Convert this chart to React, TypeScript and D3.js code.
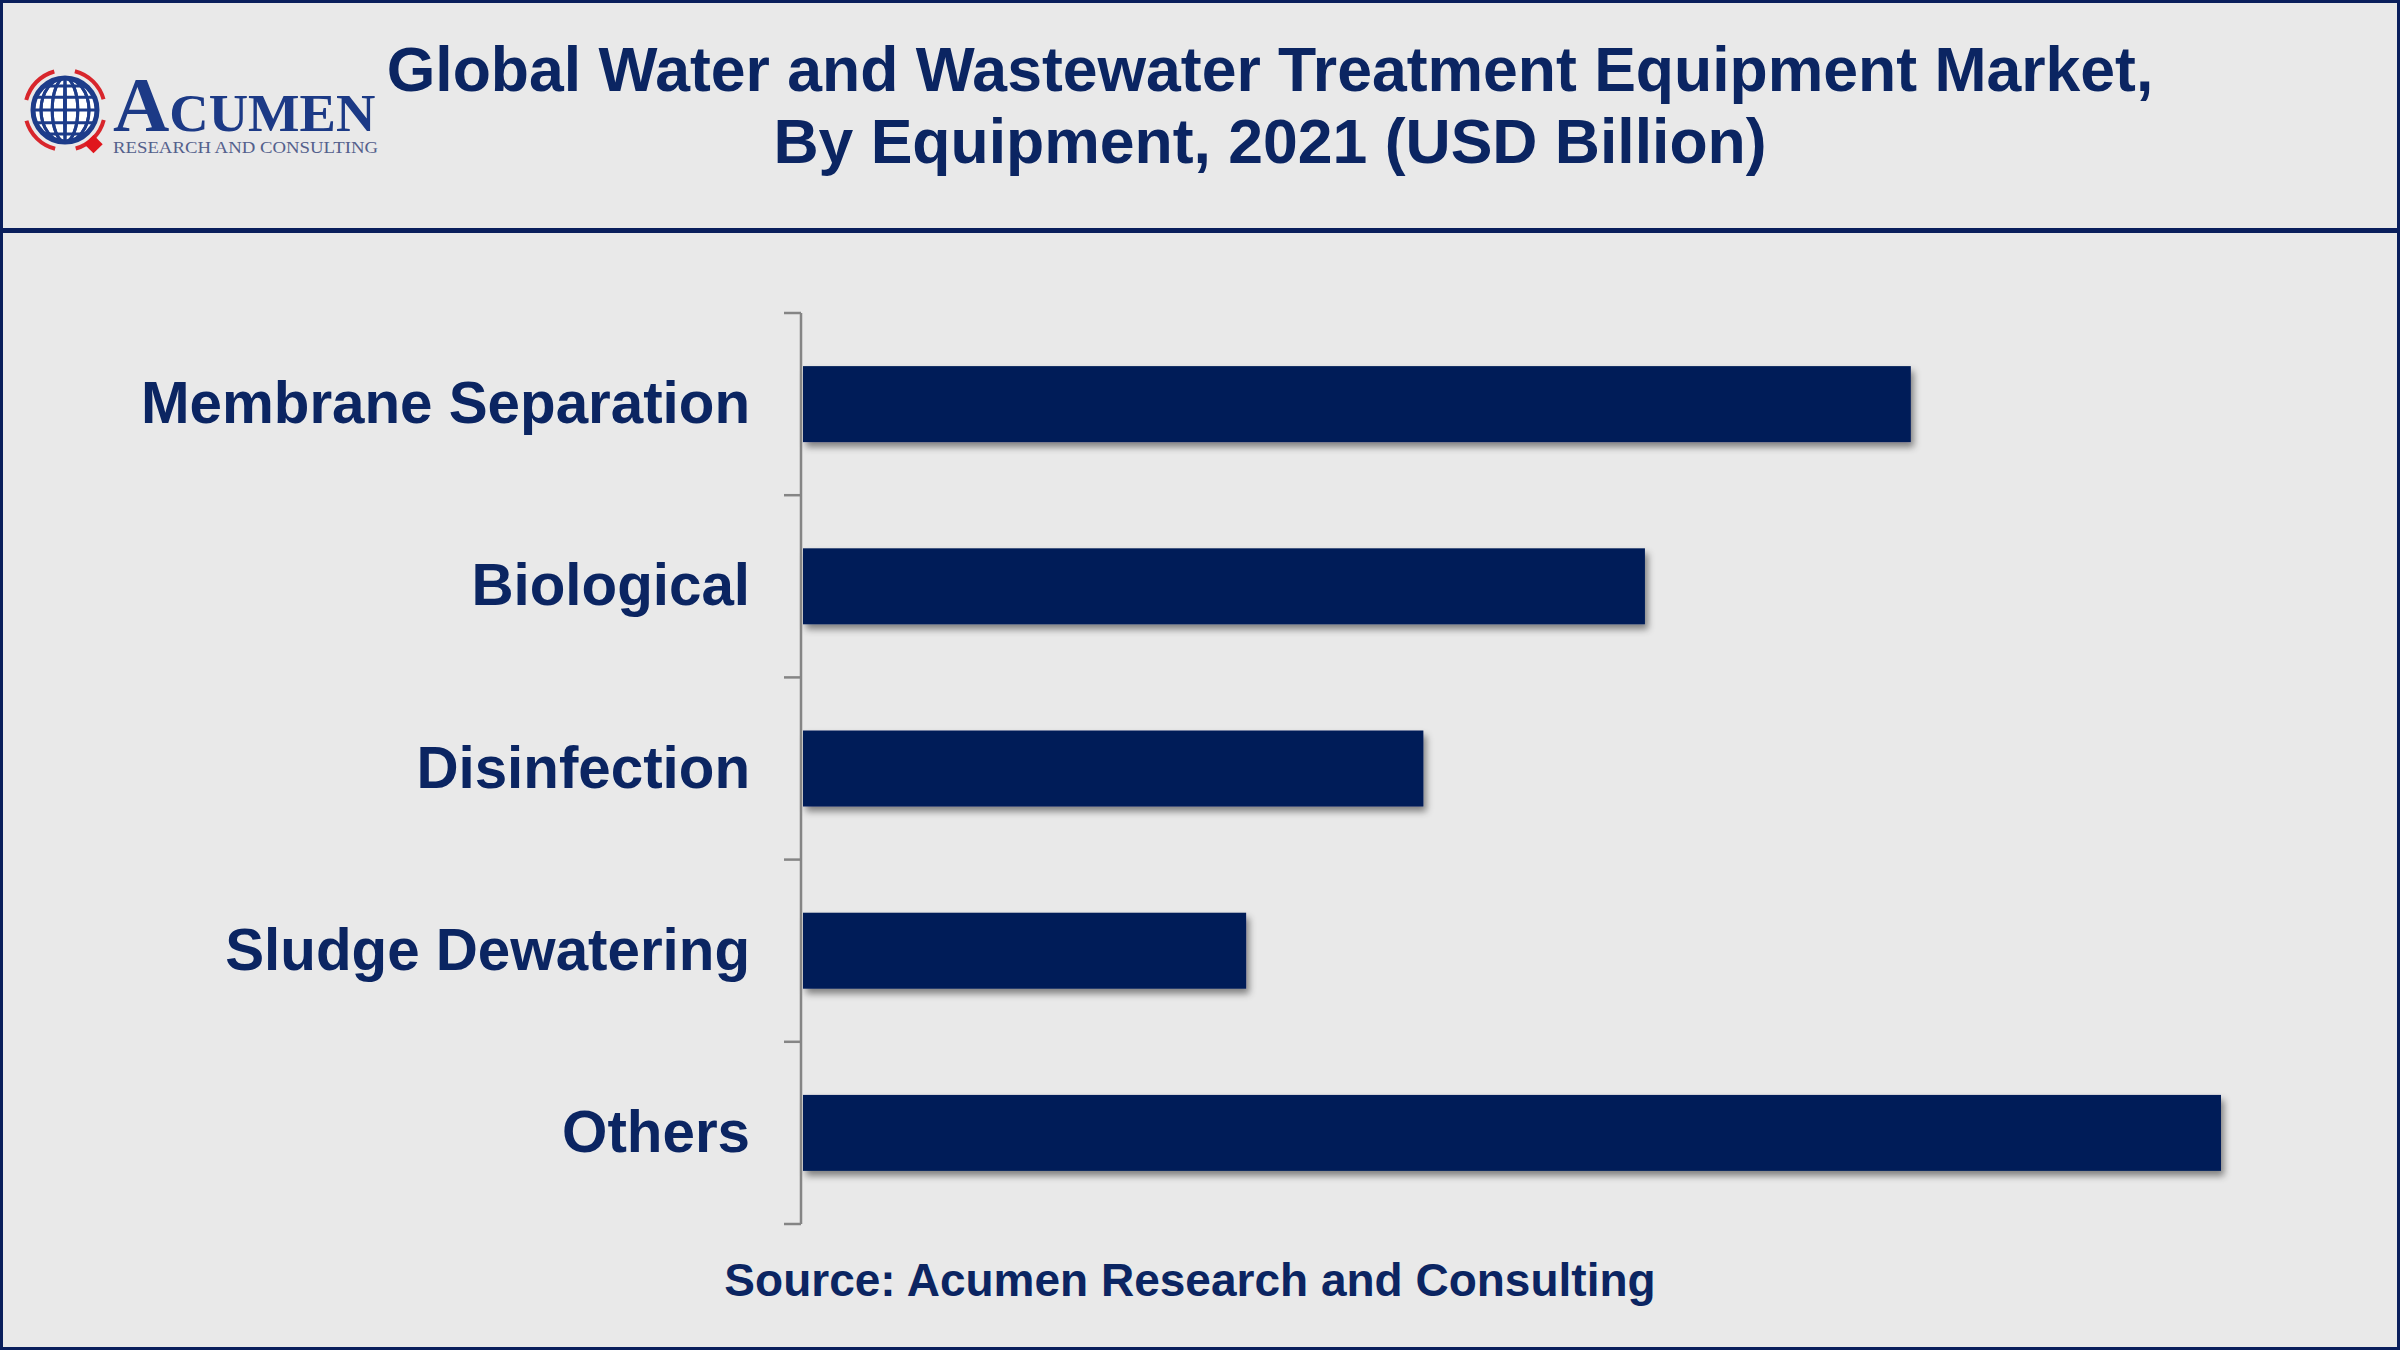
import * as d3 from "d3";
import { useEffect } from "react";

const WIDTH = 2400;
const HEIGHT = 1350;

const categories = [
  "Membrane Separation",
  "Biological",
  "Disinfection",
  "Sludge Dewatering",
  "Others",
];
const values = [25, 19, 14, 10, 32];
const titleLines = [
  "Global Water and Wastewater Treatment Equipment Market,",
  "By Equipment, 2021 (USD Billion)",
];
const sourceText = "Source: Acumen Research and Consulting";

const NAVY = "#001c59";
const TEXT = "#0b2562";
const BG = "#e9e9e9";
const FONT = "'Liberation Sans', Arial, sans-serif";

const plot = { left: 803, right: 2221, top: 313, bottom: 1224, axisX: 801 };

function Logo() {
  const cx = 65;
  const cy = 110;
  const r = 32;
  const arcGen = d3.arc();
  const arrows = [0, 1, 2, 3].map((i) => {
    const start = (i * Math.PI) / 2 + 0.25;
    return arcGen({
      innerRadius: r + 6,
      outerRadius: r + 10,
      startAngle: start,
      endAngle: start + 1.05,
    }) ?? "";
  });
  const meridians = [-0.75, -0.4, 0, 0.4, 0.75];
  return (
    <g>
      <g transform={`translate(${cx},${cy})`}>
        {arrows.map((d, i) => (
          <path key={i} d={d} fill="#d8262c" />
        ))}
        <circle r={r} fill="#ffffff" stroke="#1d3c8a" strokeWidth={5} />
        {meridians.map((m, i) => (
          <ellipse
            key={`m${i}`}
            rx={Math.abs(m) * r || 0.5}
            ry={r}
            fill="none"
            stroke="#1d3c8a"
            strokeWidth={3}
          />
        ))}
        {meridians.map((m, i) => (
          <line
            key={`p${i}`}
            x1={-Math.sqrt(r * r - (m * r) ** 2)}
            x2={Math.sqrt(r * r - (m * r) ** 2)}
            y1={m * r}
            y2={m * r}
            stroke="#1d3c8a"
            strokeWidth={3}
          />
        ))}
        <rect
          x={22}
          y={22}
          width={13}
          height={13}
          fill="#e0161d"
          transform="rotate(45 28.5 28.5) translate(4 4)"
        />
      </g>
      <text
        x={113}
        y={131}
        fontFamily="'Liberation Serif', 'DejaVu Serif', serif"
        fontWeight="bold"
        fill="#1c3a86"
      >
        <tspan fontSize={78}>A</tspan>
        <tspan fontSize={52} textLength={206} lengthAdjust="spacingAndGlyphs">
          CUMEN
        </tspan>
      </text>
      <text
        x={113}
        y={153}
        fontFamily="'Liberation Serif', 'DejaVu Serif', serif"
        fontSize={16}
        fill="#54608c"
        textLength={265}
        lengthAdjust="spacingAndGlyphs"
      >
        RESEARCH AND CONSULTING
      </text>
    </g>
  );
}

export default function App() {
  useEffect(() => {
    document.body.style.margin = "0";
  }, []);

  const x = d3.scaleLinear().domain([0, 32]).range([plot.left, plot.right]);
  const y = d3
    .scaleBand<string>()
    .domain(categories)
    .range([plot.top, plot.bottom])
    .paddingInner(0.583)
    .paddingOuter(0.2915);

  const step = y.step();
  const boundaries = d3.range(categories.length + 1).map((i) => plot.top + i * step);

  return (
    <svg
      width={WIDTH}
      height={HEIGHT}
      viewBox={`0 0 ${WIDTH} ${HEIGHT}`}
      style={{ display: "block" }}
    >
      <defs>
        <filter id="barShadow" x="-5%" y="-30%" width="115%" height="180%">
          <feDropShadow dx={3} dy={5} stdDeviation={3.5} floodColor="#000" floodOpacity={0.45} />
        </filter>
      </defs>
      <rect x={0} y={0} width={WIDTH} height={HEIGHT} fill={BG} />
      <rect
        x={1.5}
        y={1.5}
        width={WIDTH - 3}
        height={HEIGHT - 3}
        fill="none"
        stroke="#0a1f5c"
        strokeWidth={3}
      />
      <line x1={0} x2={WIDTH} y1={230.5} y2={230.5} stroke="#0a1f5c" strokeWidth={5} />

      <Logo />

      {titleLines.map((t, i) => (
        <text
          key={t}
          x={1270}
          y={91 + i * 72}
          textAnchor="middle"
          fontFamily={FONT}
          fontWeight="bold"
          fontSize={62.5}
          fill={TEXT}
        >
          {t}
        </text>
      ))}

      <g>
        {categories.map((c, i) => (
          <rect
            key={c}
            x={x(0)}
            y={y(c)}
            width={x(values[i]) - x(0)}
            height={y.bandwidth()}
            fill={NAVY}
            filter="url(#barShadow)"
          />
        ))}
      </g>

      <path
        d={`M${plot.axisX},${plot.top}V${plot.bottom}`}
        stroke="#858585"
        strokeWidth={2.5}
        fill="none"
      />
      {boundaries.map((b) => (
        <line
          key={b}
          x1={plot.axisX - 17}
          x2={plot.axisX}
          y1={b}
          y2={b}
          stroke="#858585"
          strokeWidth={2.5}
        />
      ))}

      {categories.map((c) => (
        <text
          key={c}
          x={750}
          y={(y(c) ?? 0) + y.bandwidth() / 2 + 19}
          textAnchor="end"
          fontFamily={FONT}
          fontWeight="bold"
          fontSize={58.3}
          fill={TEXT}
        >
          {c}
        </text>
      ))}

      <text
        x={1190}
        y={1296}
        textAnchor="middle"
        fontFamily={FONT}
        fontWeight="bold"
        fontSize={46}
        fill={TEXT}
      >
        {sourceText}
      </text>
    </svg>
  );
}
